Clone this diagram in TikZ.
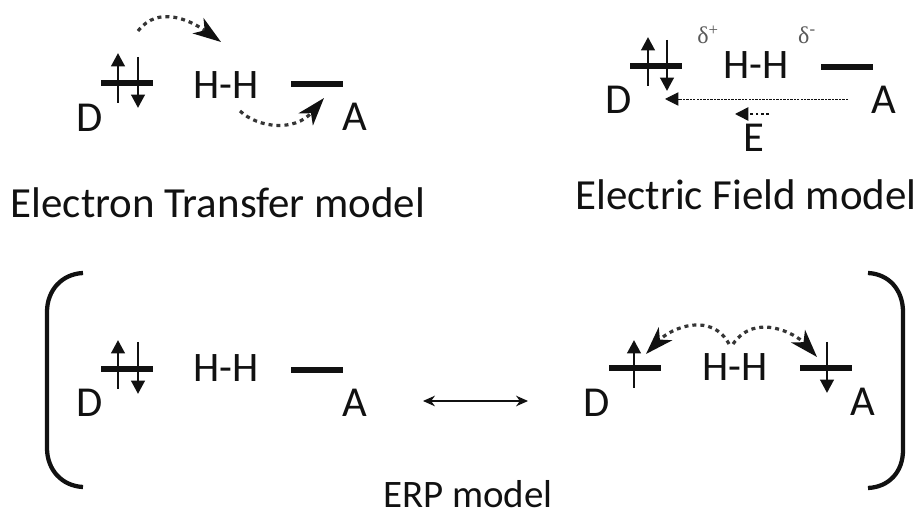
\documentclass[tikz,border=0pt]{standalone}
\usepackage{fontspec}
\setmainfont{Carlito}
\newfontfamily\deltafont{Liberation Serif}
\usetikzlibrary{arrows.meta,positioning}
\definecolor{erpInk}{HTML}{111111}
\tikzset{
  atomlabel/.style={inner sep=0pt,text=erpInk,font=\fontsize{32}{32}\selectfont},
  bondlabel/.style={inner sep=0pt,text=erpInk,font=\fontsize{31.5}{32}\selectfont},
  modellabel/.style={inner sep=0pt,text=erpInk,font=\fontsize{32.2}{34}\selectfont},
  deltalabel/.style={inner sep=0pt,text=gray!70!black,font=\deltafont\fontsize{18}{18}\selectfont},
  orbital/.style={draw=erpInk,line width=3.8pt},
  spin/.style={draw=erpInk,line width=2.2pt,-{Triangle[length=10pt,width=10pt]}},
  hop/.style={draw=erpInk!85,line width=2.4pt,dash pattern=on 3pt off 3pt,-{Stealth[length=21pt,width=14pt,inset=6pt,fill=erpInk,color=erpInk]}},
  field/.style={draw=erpInk,line width=0.7pt,dash pattern=on 1.8pt off 0.8pt,-{Triangle[length=10pt,width=10pt]}},
  bracket/.style={draw=erpInk,line width=3.2pt}
}
\begin{document}
\begin{tikzpicture}[x=0.75pt,y=-0.75pt]
  \useasboundingbox (0,0) rectangle (921,516);
  % electron transfer
  \node[atomlabel] (etD) at (90,118) {D};
  \node[bondlabel] (etHH) at (226,85) {H-H};
  \node[atomlabel] (etA) at (355,117) {A};
  \coordinate (etDl) at (101,83); \coordinate (etDr) at (153,83);
  \coordinate (etAl) at (291,84); \coordinate (etAr) at (343,84);
  \draw[orbital] (etDl) -- (etDr);
  \draw[orbital] (etAl) -- (etAr);
  \coordinate (etUa) at (118,103); \coordinate (etUb) at (118,53);
  \coordinate (etDa) at (138,57); \coordinate (etDb) at (138,108);
  \draw[spin] (etUa) -- (etUb);
  \draw[spin] (etDa) -- (etDb);
  \coordinate (etHa) at (138,31); \coordinate (etHb) at (221,42);
  \coordinate (etHc) at (240,111); \coordinate (etHd) at (324,98);
  \draw[hop] (etHa) .. controls (158,5) and (190,20) .. (etHb);
  \draw[hop] (etHc) .. controls (258,128) and (295,132) .. (etHd);
  \node[modellabel] (etLabel) at (218,203) {Electron Transfer model};
  % electric field
  \node[atomlabel] (efD) at (619,100) {D};
  \node[bondlabel] (efHH) at (756,65) {H-H};
  \node[atomlabel] (efA) at (884,100) {A};
  \node[deltalabel] (efPlus) at (708,35) {δ\textsuperscript{+}};
  \node[deltalabel] (efMinus) at (807,35) {δ\textsuperscript{-}};
  \coordinate (efDl) at (630,66); \coordinate (efDr) at (682,66);
  \coordinate (efAl) at (821,67); \coordinate (efAr) at (873,67);
  \draw[orbital] (efDl) -- (efDr);
  \draw[orbital] (efAl) -- (efAr);
  \coordinate (efUa) at (648,86); \coordinate (efUb) at (648,37);
  \coordinate (efDa) at (667,40); \coordinate (efDb) at (667,91);
  \draw[spin] (efUa) -- (efUb);
  \draw[spin] (efDa) -- (efDb);
  \coordinate (efFa) at (848,99); \coordinate (efFb) at (665,99);
  \draw[field] (efFa) -- (efFb);
  \node[atomlabel] (efE) at (754,138) {E};
  \coordinate (efEa) at (769,114); \coordinate (efEb) at (735,114);
  \draw[field,line width=1.2pt,dash pattern=on 2pt off 2pt] (efEa) -- (efEb);
  \node[modellabel] (efLabel) at (746,195) {Electric Field model};
  % erp, left form
  \node[atomlabel] (lfD) at (90,403) {D};
  \node[bondlabel] (lfHH) at (226,368) {H-H};
  \node[atomlabel] (lfA) at (355,403) {A};
  \coordinate (lfDl) at (101,369); \coordinate (lfDr) at (153,369);
  \coordinate (lfAl) at (291,370); \coordinate (lfAr) at (343,370);
  \draw[orbital] (lfDl) -- (lfDr);
  \draw[orbital] (lfAl) -- (lfAr);
  \coordinate (lfUa) at (118,389); \coordinate (lfUb) at (118,340);
  \coordinate (lfDa) at (138,342); \coordinate (lfDb) at (138,394);
  \draw[spin] (lfUa) -- (lfUb);
  \draw[spin] (lfDa) -- (lfDb);
  \coordinate (resL) at (423,401); \coordinate (resR) at (528,401);
  \draw[erpInk,line width=1pt,{Stealth[length=9pt,width=8pt]}-{Stealth[length=9pt,width=8pt]}] (resL) -- (resR);
  % erp, right form
  \node[atomlabel] (rfD) at (597,403) {D};
  \node[bondlabel] (rfHH) at (735,367) {H-H};
  \node[atomlabel] (rfA) at (863,402) {A};
  \coordinate (rfDl) at (609,368); \coordinate (rfDr) at (661,368);
  \coordinate (rfAl) at (800,368); \coordinate (rfAr) at (852,368);
  \draw[orbital] (rfDl) -- (rfDr);
  \draw[orbital] (rfAl) -- (rfAr);
  \coordinate (rfUa) at (634,388); \coordinate (rfUb) at (634,340);
  \coordinate (rfDa) at (827,342); \coordinate (rfDb) at (827,393);
  \draw[spin] (rfUa) -- (rfUb);
  \draw[spin] (rfDa) -- (rfDb);
  \coordinate (rfHa) at (729,344); \coordinate (rfHb) at (646,354);
  \coordinate (rfHc) at (733,344); \coordinate (rfHd) at (817,357);
  \draw[hop] (rfHa) .. controls (712,312) and (672,327) .. (rfHb);
  \draw[hop] (rfHc) .. controls (756,311) and (797,335) .. (rfHd);
  \node[modellabel,font=\fontsize{29.2}{32}\selectfont] (erpLabel) at (468,494) {ERP model};
  % brackets
  \coordinate (brLa) at (83,273); \coordinate (brLb) at (83,487);
  \coordinate (brRa) at (868,273); \coordinate (brRb) at (868,488);
  \draw[bracket] (brLa) .. controls (62,274) and (47,290) .. (47,312) -- (47,448) .. controls (47,470) and (62,486) .. (brLb);
  \draw[bracket] (brRa) .. controls (889,274) and (903,290) .. (903,312) -- (903,450) .. controls (903,472) and (889,487) .. (brRb);
\end{tikzpicture}
\end{document}
